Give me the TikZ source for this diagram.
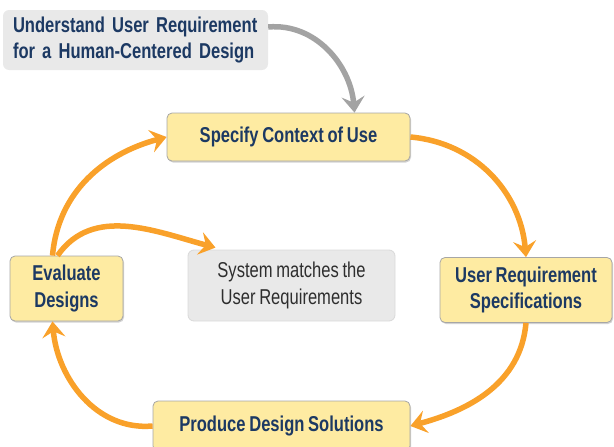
\documentclass[tikz,border=0pt]{standalone}
\usepackage{fontspec}
\setmainfont{Liberation Sans}[FakeStretch=0.77,WordSpace=0.8]
\usetikzlibrary{arrows.meta,shadows}
\definecolor{boxyellow}{HTML}{FEEBA2}
\definecolor{boxgrey}{HTML}{E9E9E9}
\definecolor{textblue}{HTML}{1C3963}
\definecolor{loop}{HTML}{F9A12A}
\definecolor{feed}{HTML}{A3A3A3}

\begin{document}
\begin{tikzpicture}[x=1pt,y=-1pt,
    font=\fontsize{21.5}{26.5}\selectfont\bfseries,
    step box/.style ={rectangle, rounded corners=5pt, draw=gray!70, line width=0.8pt,
       fill=boxyellow, text=textblue, align=center, inner sep=0pt,
       drop shadow={shadow xshift=1pt, shadow yshift=-1.5pt, fill=black!35}},
    note box/.style ={rectangle, rounded corners=6pt, fill=boxgrey, inner sep=0pt},
    cycle arrow/.style ={draw=loop, line width=5.5pt,
       -{Stealth[length=16pt,width=23pt,inset=6pt]}},
    feed arrow/.style ={draw=feed, line width=5.5pt,
       -{Stealth[length=16pt,width=23pt,inset=6pt]}}]
   \useasboundingbox (0,0) rectangle (614,447);
   \node[note box, minimum width=265pt, minimum height=60pt, text=textblue,
         text width=245pt, align=left] (need) at (135.5,40) {Understand User Requirement\\for a Human-Centered Design};
   \node[step box, minimum width=243pt, minimum height=48pt] (spec) at (288.5,137) {Specify Context of Use};
   \node[step box, minimum width=172pt, minimum height=65pt] (ureq) at (526,290) {User Requirement\\Specifications};
   \node[step box, minimum width=257pt, minimum height=50pt] (prod) at (281.5,426) {Produce Design Solutions};
   \node[step box, minimum width=113pt, minimum height=65pt] (eval) at (66.5,288.5) {Evaluate\\Designs};
   \node[note box, draw=gray!30, line width=0.8pt, minimum width=207pt, minimum height=71pt,
         text=black!82, align=center, font=\fontsize{21.5}{26.5}\selectfont] (sys) at (291.5,285.5) {System matches the\\User Requirements};
   \draw[feed arrow] (need.east |- 0,27) to[out=5,in=95] ([xshift=66pt]spec.north);
   \draw[cycle arrow] (spec.east) to[out=-5,in=95] (ureq.north);
   \draw[cycle arrow] (ureq.south) to[out=-95,in=15] (prod.east);
   \draw[cycle arrow] (prod.west) to[out=185,in=-85] ([xshift=-14pt]eval.south);
   \draw[cycle arrow] ([xshift=-14pt]eval.north) to[out=85,in=195] (spec.west);
   \draw[cycle arrow] ([xshift=-9pt]eval.north) to[out=55,in=165] ([xshift=-76pt,yshift=2pt]sys.north);
 \end{tikzpicture}
\end{document}
